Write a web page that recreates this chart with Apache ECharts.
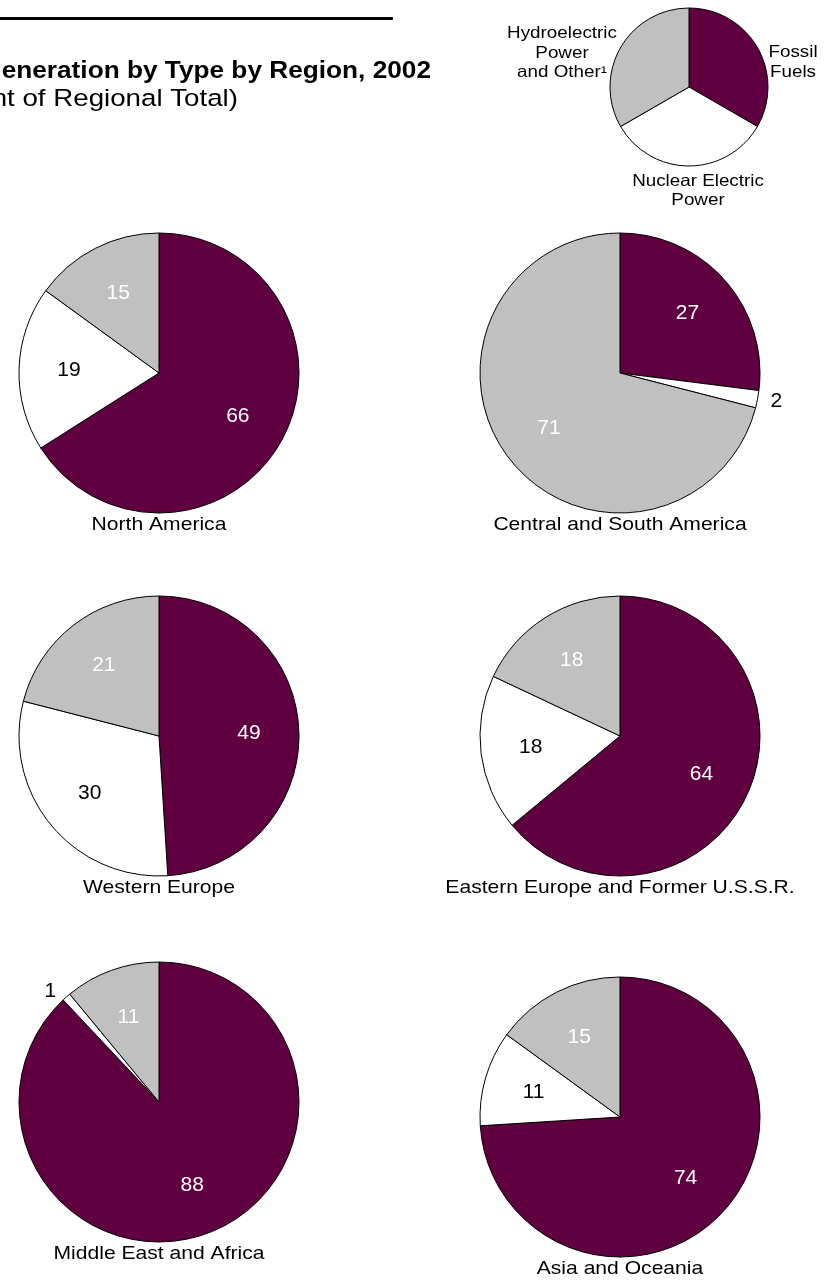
<!DOCTYPE html>
<html><head><meta charset="utf-8">
<script src="https://cdn.jsdelivr.net/npm/echarts@6/dist/echarts.min.js"></script>
<style>html,body{margin:0;padding:0;background:#fff}#c{width:833px;height:1280px}</style>
</head><body><div id="c"></div>
<script>
// ---- data ----
const categories = ['Fossil Fuels', 'Nuclear Electric Power', 'Hydroelectric Power and Other¹'];
const regions = ['North America', 'Central and South America', 'Western Europe',
  'Eastern Europe and Former U.S.S.R.', 'Middle East and Africa', 'Asia and Oceania'];
const fossil  = [66, 27, 49, 64, 88, 74];
const nuclear = [19,  2, 30, 18,  1, 11];
const hydro   = [15, 71, 21, 18, 11, 15];
const legendShares = [1, 1, 1];

// ---- layout / style ----
const FONT = '"Liberation Sans", Arial, Helvetica, sans-serif';
const SX = 1.14; // horizontal stretch of the original's lettering
const colors = ['#600040', '#ffffff', '#c0c0c0'];
const labelColors = ['#ffffff', '#000000', '#ffffff'];
const centers = [[159, 373], [620, 373], [159, 736], [620, 736], [159, 1102], [620, 1117]];
const R = 140;

const series = [];
series.push({
  type: 'pie', center: [689, 87], radius: [0, 79], startAngle: 90, clockwise: true,
  silent: true, label: { show: false }, labelLine: { show: false },
  itemStyle: { borderColor: '#000', borderWidth: 1 },
  data: categories.map((n, i) => ({ name: n, value: legendShares[i], itemStyle: { color: colors[i] } }))
});

const graphics = [];
regions.forEach((reg, k) => {
  const vals = [fossil[k], nuclear[k], hydro[k]];
  series.push({
    type: 'pie', name: reg, center: centers[k], radius: [0, R], startAngle: 90, clockwise: true,
    silent: true, label: { show: false }, labelLine: { show: false },
    itemStyle: { borderColor: '#000', borderWidth: 1 },
    data: vals.map((v, i) => ({ name: categories[i], value: v, itemStyle: { color: colors[i] } }))
  });
  series.push({
    type: 'pie', name: reg + ' labels', center: centers[k], radius: [34, R], startAngle: 90, clockwise: true,
    silent: true, avoidLabelOverlap: false,
    itemStyle: { color: 'rgba(0,0,0,0)', borderWidth: 0 },
    labelLine: { show: false, length: 8, length2: 0 },
    label: { show: true, position: 'inside', formatter: '{c}', fontFamily: FONT, fontSize: 21 },
    data: vals.map((v, i) => ({
      name: categories[i], value: v,
      label: v <= 2 ? { position: 'outside', color: '#000' } : { color: labelColors[i] }
    }))
  });
  graphics.push({
    type: 'text', x: centers[k][0], y: centers[k][1] + R + 12, scaleX: SX,
    style: { text: reg, fontFamily: FONT, fontSize: 18.5, fill: '#000', align: 'center', verticalAlign: 'middle' }
  });
});

graphics.push(
  { type: 'line', shape: { x1: 0, y1: 18.5, x2: 393, y2: 18.5 }, style: { stroke: '#000', lineWidth: 3 } },
  { type: 'text', x: 431, y: 72, scaleX: SX, style: { text: 'Generation by Type by Region, 2002', fontFamily: FONT, fontWeight: 'bold', fontSize: 23, fill: '#000', align: 'right', verticalAlign: 'middle' } },
  { type: 'text', x: 238, y: 99, scaleX: SX, style: { text: '(Percent of Regional Total)', fontFamily: FONT, fontSize: 24.3, fill: '#000', align: 'right', verticalAlign: 'middle' } },
  { type: 'text', x: 562, y: 53, scaleX: SX, style: { text: 'Hydroelectric\nPower\nand Other¹', fontFamily: FONT, fontSize: 16.5, lineHeight: 19.7, fill: '#000', align: 'center', verticalAlign: 'middle' } },
  { type: 'text', x: 793, y: 62.5, scaleX: SX, style: { text: 'Fossil\nFuels', fontFamily: FONT, fontSize: 16.5, lineHeight: 19.7, fill: '#000', align: 'center', verticalAlign: 'middle' } },
  { type: 'text', x: 698, y: 191, scaleX: SX, style: { text: 'Nuclear Electric\nPower', fontFamily: FONT, fontSize: 16.5, lineHeight: 19.5, fill: '#000', align: 'center', verticalAlign: 'middle' } }
);

const chart = echarts.init(document.getElementById('c'), null, { renderer: 'canvas' });
chart.setOption({
  animation: false,
  backgroundColor: '#fff',
  series: series,
  graphic: graphics
});
</script></body></html>
